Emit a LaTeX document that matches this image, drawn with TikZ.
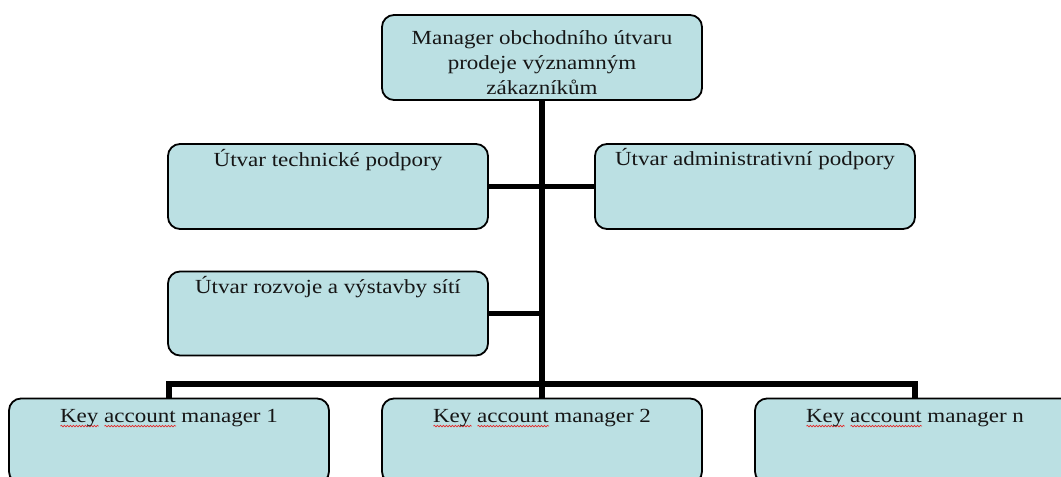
\documentclass[tikz,border=0pt]{standalone}
\usepackage{fontspec}
\setmainfont{Liberation Serif}[FakeStretch=1.15]
\usetikzlibrary{backgrounds,decorations.pathmorphing}
\definecolor{boxfill}{RGB}{187,224,227}
\definecolor{inkgray}{RGB}{22,22,22}
\definecolor{spellred}{RGB}{225,45,45}
% red wavy spell-check underline under one word
\newcommand\spellwave[1]{%
  \setbox0\hbox{#1}%
  \rlap{\tikz[baseline=0pt]\draw[spellred, line width=0.7bp,
        decorate, decoration={snake, segment length=3bp, amplitude=0.8bp}]
        (0pt,-3.5bp) -- (\wd0,-3.5bp);}%
  \box0}
\begin{document}
\begin{tikzpicture}[x=1bp,y=-1bp,
  box/.style={draw=black, line width=1.8bp, rounded corners=12bp, fill=boxfill,
              minimum width=320bp, minimum height=85bp, inner sep=0pt},
  lbl/.style={font=\fontsize{20bp}{25bp}\selectfont, text=inkgray, inner sep=0pt},
  link/.style={draw=black, line width=5.5bp}]
\useasboundingbox (0,0) rectangle (1061,477);
\clip (0,0) rectangle (1061,477);

% boxes
\node[box] (mgr)   at (542,57.5)  {};
\node[box] (tech)  at (328,186.5) {};
\node[box] (admin) at (755,186.5) {};
\node[box, minimum height=84bp] (dev) at (328,313.5) {};
\node[box] (kam1)  at (169,441)   {};
\node[box] (kam2)  at (542,441)   {};
\node[box] (kamn)  at (915,441)   {};

% labels
\node[lbl, align=center] (mgrT) at (542,63)
  {Manager obchodního útvaru\\prodeje významným\\zákazníkům};
\node[lbl, anchor=base, yshift=-23bp] (techT)  at (tech.north)  {Útvar technické podpory};
\node[lbl, anchor=base, yshift=-22bp] (adminT) at (admin.north) {Útvar administrativní podpory};
\node[lbl, anchor=base, yshift=-23bp] (devT)   at (dev.north)   {Útvar rozvoje a výstavby sítí};
\node[lbl, anchor=base, yshift=-25bp] (kam1T)  at (kam1.north)  {\spellwave{Key}\ \spellwave{account}\ manager 1};
\node[lbl, anchor=base, yshift=-25bp] (kam2T)  at (kam2.north)  {\spellwave{Key}\ \spellwave{account}\ manager 2};
\node[lbl, anchor=base, yshift=-25bp] (kamnT)  at (kamn.north)  {\spellwave{Key}\ \spellwave{account}\ manager n};

% connectors
\coordinate (bus) at (542,384);
\begin{scope}[on background layer]
  \draw[link] (mgr.south) -- (kam2.north);
  \draw[link] (tech.east) -- (admin.west);
  \draw[link] (dev.east) -- (dev.east -| mgr.south);
  \draw[link] (kam1.north) |- (bus) -| (kamn.north);
\end{scope}
\end{tikzpicture}
\end{document}
